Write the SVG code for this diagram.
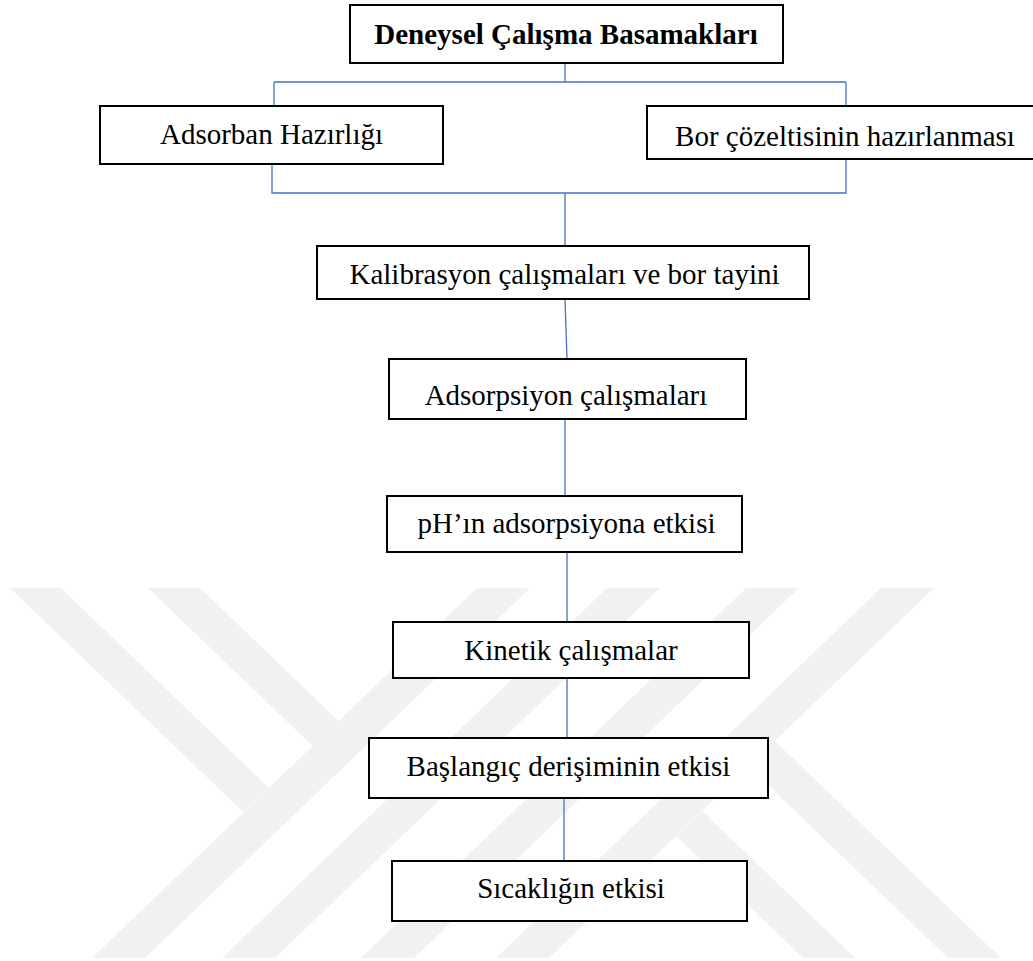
<svg xmlns="http://www.w3.org/2000/svg" width="1033" height="961" viewBox="0 0 1033 961">
<style>
.wm{fill:#f1f1f1;stroke:none}
.box{fill:#ffffff;stroke:#000000;stroke-width:2}
.lbl{font-family:"Liberation Serif","Times New Roman",serif;font-size:29px;fill:#000000;text-anchor:middle}
.b{font-weight:bold}
.con{fill:none;stroke:#4472C4;stroke-width:1.3}
</style>
<rect x="0" y="0" width="1033" height="961" fill="#ffffff"/>
<g id="watermark">
<polygon class="wm" points="477,588 530,588 145,958 92,958"/>
<polygon class="wm" points="607,588 660,588 275,958 222,958"/>
<polygon class="wm" points="746,588 799,588 414,958 361,958"/>
<polygon class="wm" points="881,588 934,588 549,958 496,958"/>
<polygon class="wm" points="10,588 61,588 269,788 243,812"/>
<polygon class="wm" points="148,588 200,588 338.5,721 312.5,746"/>
<polygon class="wm" points="702.5,811.4 855,958 803,958 676.5,836.4"/>
<polygon class="wm" points="775,741 1001,958 948,958 748.6,766.3"/>
</g>
<g id="connectors">
<path class="con" d="M565,63 V82 M274,82 H846 M274,82 V106 M846,82 V106"/>
<path class="con" d="M272,165 V193 H846 V160 M565,193 V246"/>
<path class="con" d="M565,300 L567,359"/>
<path class="con" d="M565,419 V496"/>
<path class="con" d="M567,552 V622"/>
<path class="con" d="M567,678 V738"/>
<path class="con" d="M564,798 V861"/>
</g>
<g id="node-title">
<rect class="box" x="350" y="5" width="433" height="58"/>
<text class="lbl b" x="566" y="44">Deneysel Çalışma Basamakları</text>
</g>
<g id="node-adsorban">
<rect class="box" x="100" y="106" width="343" height="58"/>
<text class="lbl" x="271.5" y="144">Adsorban Hazırlığı</text>
</g>
<g id="node-bor">
<rect class="box" x="647" y="106" width="420" height="53"/>
<text class="lbl" x="845" y="146">Bor çözeltisinin hazırlanması</text>
</g>
<g id="node-kalibrasyon">
<rect class="box" x="317" y="246" width="492" height="53"/>
<text class="lbl" x="564.5" y="284">Kalibrasyon çalışmaları ve bor tayini</text>
</g>
<g id="node-adsorpsiyon">
<rect class="box" x="389" y="359" width="357" height="60"/>
<text class="lbl" x="566" y="405">Adsorpsiyon çalışmaları</text>
</g>
<g id="node-ph">
<rect class="box" x="387" y="496" width="355" height="56"/>
<text class="lbl" x="566.5" y="533">pH’ın adsorpsiyona etkisi</text>
</g>
<g id="node-kinetik">
<rect class="box" x="393" y="622" width="356" height="56"/>
<text class="lbl" x="571" y="660">Kinetik çalışmalar</text>
</g>
<g id="node-baslangic">
<rect class="box" x="369" y="738" width="399" height="60"/>
<text class="lbl" x="568.5" y="776">Başlangıç derişiminin etkisi</text>
</g>
<g id="node-sicaklik">
<rect class="box" x="392" y="861" width="355" height="60"/>
<text class="lbl" x="571" y="898">Sıcaklığın etkisi</text>
</g>
</svg>
